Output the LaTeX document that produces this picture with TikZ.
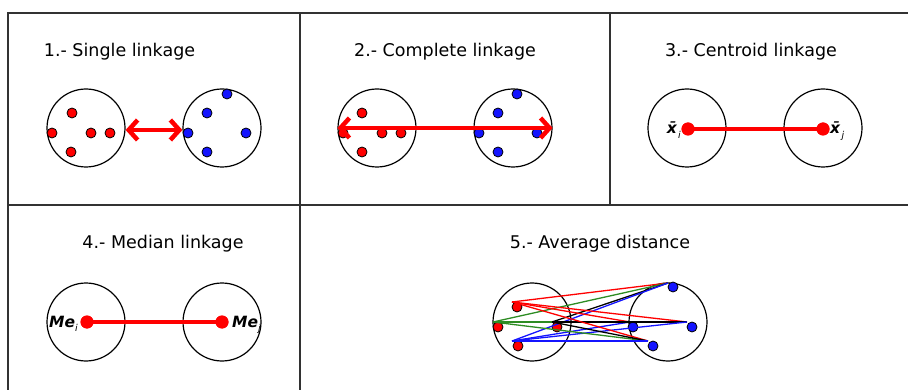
\documentclass[tikz,border=0pt]{standalone}
\usepackage{fontspec}
\setmainfont{DejaVu Sans}[BoldFont={DejaVu Sans Bold},ItalicFont={DejaVu Sans Oblique},BoldItalicFont={DejaVu Sans Bold Oblique}]
\usetikzlibrary{arrows.meta}
\definecolor{lgreen}{RGB}{45,140,35}
\definecolor{lblue}{RGB}{20,20,255}
\definecolor{framegray}{RGB}{50,50,50}
\newcommand{\subsc}[1]{\raisebox{-4.5pt}{\fontsize{9.5}{10}\selectfont\itshape #1}}
\begin{document}
\begin{tikzpicture}[x=1pt,y=-1pt,
  frame/.style={draw=framegray,line width=1.3pt},
  circ/.style={circle,draw=black,line width=1.2pt,minimum size=78pt,inner sep=0pt},
  rdot/.style={circle,fill=red,draw=black,line width=0.8pt,minimum size=10pt,inner sep=0pt},
  bdot/.style={circle,fill=lblue,draw=black,line width=0.8pt,minimum size=10pt,inner sep=0pt},
  bigdot/.style={circle,fill=red,minimum size=13pt,inner sep=0pt},
  link/.style={draw=red,line width=4.5pt},
  dbl/.style={link,{Straight Barb[length=9pt,width=20pt]}-{Straight Barb[length=9pt,width=20pt]}},
  title/.style={font=\fontsize{17.5}{20}\selectfont,anchor=base,inner sep=0pt},
  lbl/.style={font=\fontsize{15.5}{16}\selectfont,inner sep=0pt},
  thin/.style={line width=1.3pt}]
\useasboundingbox (0,0) rectangle (908,390);
% frame
\draw[frame] (8,390) -- (8,13) -- (908,13);
\draw[frame] (8,205) -- (908,205);
\draw[frame] (300,13) -- (300,390);
\draw[frame] (610,13) -- (610,205);
% titles
\node[title] (t1) at (119.5,57) {1.- Single linkage};
\node[title] (t2) at (445,57) {2.- Complete linkage};
\node[title] (t3) at (751,57) {3.- Centroid linkage};
\node[title] (t4) at (163,249) {4.- Median linkage};
\node[title] (t5) at (600,249) {5.- Average distance};
% panel 1
\node[circ] (c1a) at (86,128) {};
\node[circ] (c1b) at (222,128) {};
\node[rdot] (p1a) at (72,113) {};
\node[rdot] (p1b) at (52,133) {};
\node[rdot] (p1c) at (91,133) {};
\node[rdot] (p1d) at (110,133) {};
\node[rdot] (p1e) at (71,152) {};
\node[bdot] (q1a) at (227,94) {};
\node[bdot] (q1b) at (207,113) {};
\node[bdot] (q1c) at (188,133) {};
\node[bdot] (q1d) at (246,133) {};
\node[bdot] (q1e) at (207,152) {};
\draw[dbl] ([yshift=-2pt]c1a.east) -- ([yshift=-2pt]c1b.west);
% panel 2
\node[circ] (c2a) at (377,128) {};
\node[circ] (c2b) at (513,128) {};
\node[rdot] (p2a) at (362,113) {};
\node[rdot] (p2b) at (343,133) {};
\node[rdot] (p2c) at (382,133) {};
\node[rdot] (p2d) at (401,133) {};
\node[rdot] (p2e) at (362,152) {};
\node[bdot] (q2a) at (517,94) {};
\node[bdot] (q2b) at (498,113) {};
\node[bdot] (q2c) at (479,133) {};
\node[bdot] (q2d) at (537,133) {};
\node[bdot] (q2e) at (498,152) {};
\draw[dbl] (c2a.west) -- (c2b.east);
% panel 3
\node[circ] (c3a) at (687,128) {};
\node[circ] (c3b) at (823,128) {};
\node[bigdot] (d3a) at (688,129) {};
\node[bigdot] (d3b) at (823,129) {};
\draw[link] (d3a.center) -- (d3b.center);
\node[bigdot] at (d3a) {};
\node[bigdot] at (d3b) {};
\node[lbl,anchor=base east] (l3a) at (681,134) {\textbf{\textit{\=x}}\subsc{i}};
\node[lbl,anchor=base west] (l3b) at (830,134) {\textbf{\textit{\=x}}\subsc{j}};
% panel 4
\node[circ] (c4a) at (86,322) {};
\node[circ] (c4b) at (222,322) {};
\node[bigdot] (d4a) at (87,322) {};
\node[bigdot] (d4b) at (222,322) {};
\draw[link] (d4a.center) -- (d4b.center);
\node[bigdot] at (d4a) {};
\node[bigdot] at (d4b) {};
\node[lbl,anchor=base west] (l4a) at (49,327) {\textbf{\textit{Me}}\subsc{i}};
\node[lbl,anchor=base west] (l4b) at (232,327) {\textbf{\textit{Me}}\subsc{j}};
% panel 5
\node[circ] (c5a) at (532,322) {};
\node[circ] (c5b) at (668,322) {};
\node[rdot] (p5a) at (517,307) {};
\node[rdot] (p5b) at (498,327) {};
\node[rdot] (p5c) at (557,327) {};
\node[rdot] (p5d) at (518,346) {};
\node[bdot] (q5a) at (673,287) {};
\node[bdot] (q5b) at (633,327) {};
\node[bdot] (q5c) at (692,327) {};
\node[bdot] (q5d) at (653,346) {};
\coordinate (r1) at (512,302);
\coordinate (r2) at (493,322);
\coordinate (r3) at (552,322);
\coordinate (r4) at (512,341);
\coordinate (b1) at (668,283);
\coordinate (b2) at (630,322);
\coordinate (b3) at (687,322);
\coordinate (b4) at (648,341);
\foreach \b in {b1,b2,b3,b4} {
  \draw[thin,red] (r1) -- (\b);
  \draw[thin,lgreen] (r2) -- (\b);
  \draw[thin,black] (r3) -- (\b);
  \draw[thin,lblue] (r4) -- (\b);
}
\end{tikzpicture}
\end{document}
